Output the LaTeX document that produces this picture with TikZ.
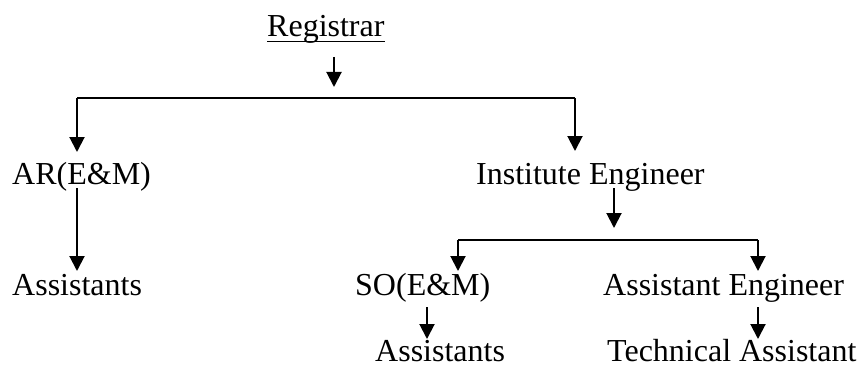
\documentclass[tikz,border=0pt]{standalone}
\usepackage{fontspec}
\setmainfont{Liberation Serif}
\usetikzlibrary{arrows.meta}
\begin{document}
\begin{tikzpicture}[x=1pt,y=-1pt,
  lbl/.style={anchor=base west,inner sep=0pt,font=\fontsize{32}{38}\selectfont},
  conn/.style={line width=2pt},
  arr/.style={line width=2pt,-{Triangle[width=15pt,length=15pt]}}]
\useasboundingbox (0,0) rectangle (857,369);
% nodes
\node[lbl] (reg) at (267,37) {Registrar};
\node[lbl] (ar) at (12,184) {AR(E\&M)};
\node[lbl] (ie) at (476,184) {Institute Engineer};
\node[lbl] (asl) at (12,295) {Assistants};
\node[lbl] (so) at (355,295) {SO(E\&M)};
\node[lbl] (ae) at (603,295) {Assistant Engineer};
\node[lbl] (asb) at (375,361.5) {Assistants};
\node[lbl] (ta) at (607,361.5) {Technical Assistant};
% underline
\draw[line width=1.5pt] ([yshift=-4.5pt]reg.base west) -- ([yshift=-4.5pt]reg.base east);
% coordinates
\coordinate (r1) at (334,57);
\coordinate (r2) at (334,87);
\coordinate (bl) at (77,98);
\coordinate (br) at (575,98);
\coordinate (art) at (77,152);
\coordinate (iet) at (575,151);
\coordinate (ar1) at (77,188);
\coordinate (ar2) at (77,271);
\coordinate (ie1) at (614,188);
\coordinate (ie2) at (614,228);
\coordinate (b2l) at (458,240);
\coordinate (b2r) at (758,240);
\coordinate (sot) at (458,271);
\coordinate (aet) at (758,271);
\coordinate (so1) at (427,307);
\coordinate (so2) at (427,339);
\coordinate (ae1) at (758,307);
\coordinate (ae2) at (758,339);
% connectors
\draw[arr] (r1) -- (r2);
\draw[conn] (bl) -- (br);
\draw[arr] (bl) -- (art);
\draw[arr] (br) -- (iet);
\draw[arr] (ar1) -- (ar2);
\draw[arr] (ie1) -- (ie2);
\draw[conn] (b2l) -- (b2r);
\draw[arr] (b2l) -- (sot);
\draw[arr] (b2r) -- (aet);
\draw[arr] (so1) -- (so2);
\draw[arr] (ae1) -- (ae2);
\end{tikzpicture}
\end{document}
